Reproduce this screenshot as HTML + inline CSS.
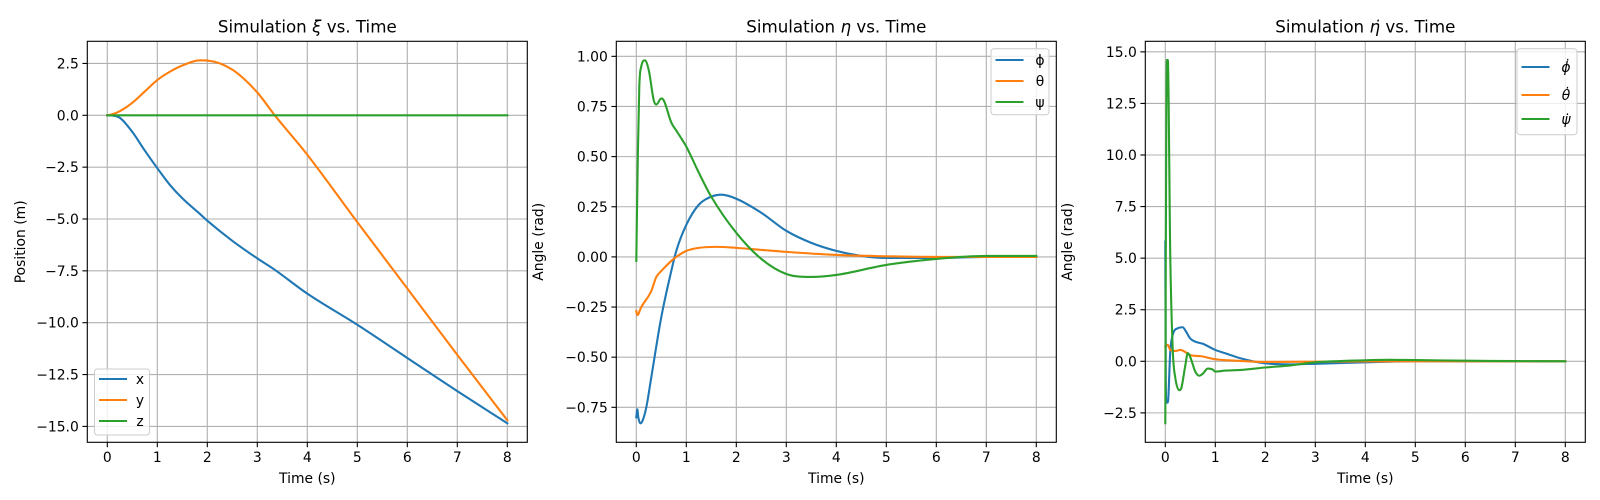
<!DOCTYPE html>
<html><head><meta charset="utf-8">
<style>
body{margin:0;background:#fff;}
svg{display:block;font-family:"DejaVu Sans","Liberation Sans",sans-serif;}
</style></head>
<body>
<svg id="fig" width="1600" height="500" viewBox="0 0 1600 500"></svg>
<script>
// ---------- data ----------
const xiTime = [0,0.1,0.25,0.5,0.75,1,1.25,1.5,1.85,2,2.5,3,3.35,4,5,6,7,8];
const xiX    = [0,-0.01,-0.12,-0.8,-1.7,-2.55,-3.35,-4.0,-4.75,-5.08,-6.05,-6.9,-7.45,-8.6,-10.1,-11.7,-13.3,-14.85];
const xiY    = [0,0.05,0.2,0.6,1.15,1.7,2.1,2.4,2.65,2.64,2.2,1.1,0.0,-1.9,-5.15,-8.35,-11.55,-14.7];
const xiZ    = [0,0,0,0,0,0,0,0,0,0,0,0,0,0,0,0,0,0];

const etaPhiT = [0,0.02,0.04,0.08,0.12,0.2,0.3,0.5,0.7,0.8,1.0,1.25,1.5,1.7,2.0,2.5,3.0,3.5,4.0,4.5,5,6,7,8];
const etaPhi  = [-0.8,-0.76,-0.8,-0.83,-0.82,-0.75,-0.6,-0.3,-0.07,0.03,0.16,0.26,0.3,0.31,0.29,0.22,0.13,0.07,0.03,0.005,-0.005,-0.005,0,0];
const etaThT  = [0,0.02,0.1,0.3,0.4,0.5,0.7,0.8,1.0,1.25,1.6,2.0,2.5,3,4,5,6,8];
const etaTh   = [-0.27,-0.29,-0.25,-0.17,-0.1,-0.07,-0.02,0.0,0.03,0.045,0.05,0.045,0.035,0.025,0.01,0.003,0,0];
const etaPsT  = [0,0.03,0.06,0.1,0.17,0.25,0.35,0.4,0.5,0.55,0.7,0.8,1.0,1.25,1.5,2.0,2.5,3.0,3.5,4.0,5,6,7,8];
const etaPs   = [-0.02,0.5,0.85,0.95,0.98,0.93,0.78,0.76,0.79,0.78,0.67,0.63,0.55,0.42,0.3,0.12,-0.01,-0.085,-0.1,-0.09,-0.04,-0.01,0.005,0.005];

const dPhiT = [0,0.01,0.02,0.05,0.1,0.15,0.25,0.35,0.4,0.5,0.6,0.75,1.0,1.25,1.5,2.0,2.5,3,4,5,8];
const dPhi  = [5.8,-1,-2.0,-2.0,0.5,1.3,1.6,1.65,1.5,1.1,0.95,0.85,0.55,0.35,0.15,-0.1,-0.15,-0.12,-0.05,0,0];
const dThT  = [0,0.05,0.1,0.2,0.3,0.4,0.5,0.7,1.0,1.5,2,3,5,8];
const dTh   = [0.7,0.8,0.55,0.5,0.55,0.45,0.3,0.25,0.1,0.02,-0.03,-0.02,0,0];
const dPsT  = [0,0.01,0.03,0.05,0.1,0.15,0.2,0.28,0.32,0.4,0.45,0.5,0.6,0.68,0.75,0.85,0.95,1.0,1.2,1.5,2.0,2.5,3,4,4.5,5,6,7,8];
const dPs   = [-3.0,5,14.6,14.6,5,0.5,-0.8,-1.4,-1.3,-0.2,0.4,0.2,-0.5,-0.7,-0.6,-0.35,-0.4,-0.5,-0.45,-0.42,-0.3,-0.2,-0.05,0.05,0.07,0.06,0.03,0.01,0];

const xTicks = [0,1,2,3,4,5,6,7,8];
const xiYTicks = [2.5,0,-2.5,-5,-7.5,-10,-12.5,-15];
const xiYLabels = ["2.5","0.0","−2.5","−5.0","−7.5","−10.0","−12.5","−15.0"];
const etaYTicks = [1,0.75,0.5,0.25,0,-0.25,-0.5,-0.75];
const etaYLabels = ["1.00","0.75","0.50","0.25","0.00","−0.25","−0.50","−0.75"];
const dYTicks = [15,12.5,10,7.5,5,2.5,0,-2.5];
const dYLabels = ["15.0","12.5","10.0","7.5","5.0","2.5","0.0","−2.5"];

// ---------- drawing ----------
const NS = "http://www.w3.org/2000/svg";
const fig = document.getElementById('fig');
const C = ['#1f77b4','#ff7f0e','#2ca02c'];
function mk(tag, attrs, parent){
  const e = document.createElementNS(NS, tag);
  for (const k in attrs) e.setAttribute(k, attrs[k]);
  (parent||fig).appendChild(e);
  return e;
}
// monotone cubic path through pixel points (no overshoot)
function monoPath(xs, ys){
  const n = xs.length;
  const d = [], m = [];
  for (let i=0;i<n-1;i++) d.push((ys[i+1]-ys[i])/((xs[i+1]-xs[i])||1e-6));
  m[0] = d[0]; m[n-1] = d[n-2];
  for (let i=1;i<n-1;i++) m[i] = (d[i-1]*d[i] <= 0) ? 0 : (d[i-1]+d[i])/2;
  for (let i=0;i<n-1;i++){
    if (d[i] === 0){ m[i]=0; m[i+1]=0; continue; }
    const a = m[i]/d[i], b = m[i+1]/d[i], s = a*a+b*b;
    if (s > 9){ const t = 3/Math.sqrt(s); m[i]=t*a*d[i]; m[i+1]=t*b*d[i]; }
  }
  let p = 'M' + xs[0].toFixed(2) + ',' + ys[0].toFixed(2);
  for (let i=0;i<n-1;i++){
    const h = (xs[i+1]-xs[i])/3;
    p += ' C' + (xs[i]+h).toFixed(2) + ',' + (ys[i]+m[i]*h).toFixed(2) + ' ' +
         (xs[i+1]-h).toFixed(2) + ',' + (ys[i+1]-m[i+1]*h).toFixed(2) + ' ' +
         xs[i+1].toFixed(2) + ',' + ys[i+1].toFixed(2);
  }
  return p;
}
const TOP = 41.3, BOT = 442.3;

function panel(cfg){
  const g = mk('g', {});
  
  
  const left = cfg.x0 - 20, right = cfg.x0 + 420;
  const sx = t => cfg.x0 + t * 50;
  const sy = v => cfg.yZero - v * cfg.ppu;
  xTicks.forEach(t => {
    const l = mk('line', {x1:sx(t), x2:sx(t), y1:TOP, y2:BOT, stroke:'#b0b0b0','stroke-width':1.1}, g);
    
    
  });
  cfg.yTicks.forEach(v => {
    const l = mk('line', {x1:left, x2:right, y1:sy(v), y2:sy(v), stroke:'#b0b0b0','stroke-width':1.1}, g);
    
    
  });
  cfg.series.forEach((s, i) => {
    const p = mk('path', {d:monoPath(s.t.map(sx), s.v.map(sy)), fill:'none', stroke:C[i], 'stroke-width':2.1, 'stroke-linejoin':'round', 'stroke-linecap':'square'}, g);
    
    
  });
  const r = mk('rect', {x:left, y:TOP, width:right-left, height:BOT-TOP, fill:'none', stroke:'#000','stroke-width':1.1}, g);
  
  
  xTicks.forEach(t => {
    mk('line', {x1:sx(t), x2:sx(t), y1:BOT, y2:BOT+4.9, stroke:'#000','stroke-width':1.1}, g);
    const tx = mk('text', {x:sx(t), y:BOT+19.5, 'text-anchor':'middle', 'font-size':13.9, fill:'#000'}, g);
    tx.textContent = String(t);
    
    
  });
  cfg.yTicks.forEach((v, i) => {
    mk('line', {x1:left-4.9, x2:left, y1:sy(v), y2:sy(v), stroke:'#000','stroke-width':1.1}, g);
    const tx = mk('text', {x:left-8.5, y:sy(v)+5, 'text-anchor':'end', 'font-size':13.9, fill:'#000'}, g);
    tx.textContent = cfg.yLabels[i];
    
    
  });
  const xl = mk('text', {x:(left+right)/2, y:483, 'text-anchor':'middle', 'font-size':13.9}, g);
  xl.textContent = 'Time (s)';
  
  
  const yl = mk('text', {x:0, y:0, 'text-anchor':'middle', 'font-size':13.9, transform:`translate(${cfg.ylx},${(TOP+BOT)/2}) rotate(-90)`}, g);
  yl.textContent = cfg.ylabel;
  
  
  const ti = mk('text', {x:(left+right)/2, y:32.5, 'text-anchor':'middle', 'font-size':16.7}, g);
  ti.innerHTML = cfg.title;
  
  
  const L = cfg.legend;
  const lb = mk('rect', {x:L.x, y:L.y, width:L.w, height:L.h, rx:3, fill:'#fff','fill-opacity':0.8, stroke:'#cccccc','stroke-width':1}, g);
  
  
  cfg.series.forEach((s, i) => {
    const yy = L.rows[i];
    const ll = mk('line', {x1:L.x+4.5, x2:L.x+32.5, y1:yy, y2:yy, stroke:C[i], 'stroke-width':2.1}, g);
    
    
    const lt = mk('text', {x:L.tx, y:yy+5, 'text-anchor':'middle', 'font-size':13.9, 'font-style':L.italic?'italic':'normal'}, g);
    lt.textContent = s.label;
    
    
  });
}

panel({name:'position-chart', x0:107.3, yZero:115.3, ppu:20.74, yTicks:xiYTicks, yLabels:xiYLabels,
  ylabel:'Position (m)', ylx:25, title:'Simulation <tspan font-style="italic">ξ</tspan> vs. Time',
  series:[{name:'x',label:'x',t:xiTime,v:xiX},{name:'y',label:'y',t:xiTime,v:xiY},{name:'z',label:'z',t:xiTime,v:xiZ}],
  legend:{x:94.5,y:369,w:55,h:66,rows:[379,400,421],tx:140,italic:false}});

panel({name:'angle-chart', x0:636.3, yZero:256.9, ppu:200.56, yTicks:etaYTicks, yLabels:etaYLabels,
  ylabel:'Angle (rad)', ylx:543, title:'Simulation <tspan font-style="italic">η</tspan> vs. Time',
  series:[{name:'phi',label:'ϕ',t:etaPhiT,v:etaPhi},{name:'theta',label:'θ',t:etaThT,v:etaTh},{name:'psi',label:'ψ',t:etaPsT,v:etaPs}],
  legend:{x:991,y:48.7,w:58,h:66,rows:[60,81,102],tx:1040,italic:false}});

panel({name:'angular-rate-chart', x0:1165.3, yZero:361.3, ppu:20.63, yTicks:dYTicks, yLabels:dYLabels,
  ylabel:'Angle (rad)', ylx:1072, title:'Simulation <tspan font-style="italic">η̇</tspan> vs. Time',
  series:[{name:'phi-dot',label:'ϕ̇',t:dPhiT,v:dPhi},{name:'theta-dot',label:'θ̇',t:dThT,v:dTh},{name:'psi-dot',label:'ψ̇',t:dPsT,v:dPs}],
  legend:{x:1517,y:48.7,w:60,h:86,rows:[67,95,119],tx:1566,italic:true}});
</script>
</body></html>
